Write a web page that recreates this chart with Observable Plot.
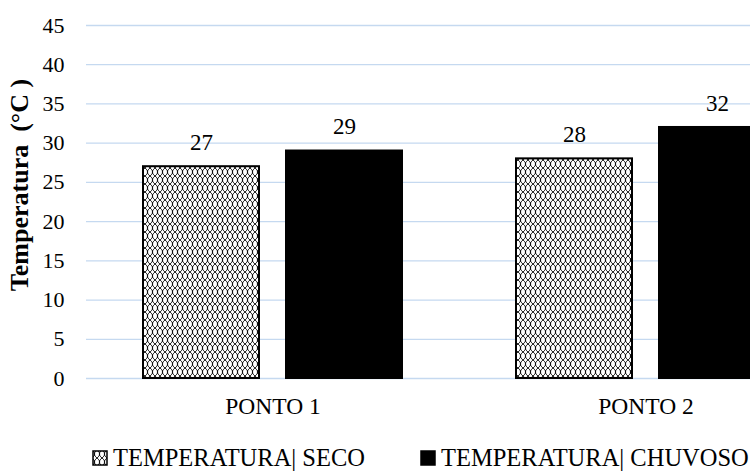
<!DOCTYPE html>
<html>
<head>
<meta charset="utf-8">
<script src="https://cdn.jsdelivr.net/npm/d3@7"></script>
<script src="https://cdn.jsdelivr.net/npm/@observablehq/plot@0.6"></script>
<style>
  html, body { margin: 0; padding: 0; background: #fff; overflow: hidden; width: 750px; height: 471px; }
  #wrap { position: relative; width: 750px; height: 471px; overflow: hidden; font-family: "Liberation Serif", "Times New Roman", serif; }
  #chart svg { max-width: none !important; display: block; }
  .leg { position: absolute; top: 444px; display: flex; align-items: center; font-size: 24.5px; color: #000; white-space: pre; line-height: 28px; }
  .sw { width: 16px; height: 16px; margin-right: 5px; display: block; }
</style>
</head>
<body>
<div id="wrap">
  <div id="chart"></div>
  <div class="leg" style="left:92px"><span id="sw1"></span><span>TEMPERATURA| SECO</span></div>
  <div class="leg" style="left:420px"><svg class="sw" width="16" height="16"><rect x="1" y="1" width="14" height="14" fill="#000" stroke="#000" stroke-width="1.5"/></svg><span>TEMPERATURA| CHUVOSO</span></div>
</div>
<script>
const pontos = ["PONTO 1", "PONTO 2"];
const series = ["TEMPERATURA| SECO", "TEMPERATURA| CHUVOSO"];
const seco = [27, 28];
const chuvoso = [29, 32];
const yTicks = [0, 5, 10, 15, 20, 25, 30, 35, 40, 45];
const yLabel = "Temperatura  (°C )";
const FONT = "Liberation Serif";

const table = [];
pontos.forEach((p, i) => {
  table.push({ponto: p, serie: series[0], valor: seco[i]});
  table.push({ponto: p, serie: series[1], valor: chuvoso[i]});
});

const patternDef = (id) => `<defs><pattern id="${id}" patternUnits="userSpaceOnUse" width="10" height="8">
  <rect width="10" height="8" fill="#fff"/>
  <path d="M0,0 Q3,2 2.5,4 T5,8 M5,0 Q8,2 7.5,4 T10,8 M10,0 Q7,2 7.5,4 T5,8 M5,0 Q2,2 2.5,4 T0,8" fill="none" stroke="#000" stroke-width="0.85"/>
</pattern></defs>`;

const fillFor = s => s === series[0] ? "url(#scales)" : "#000";

const chart = Plot.plot({
  width: 832,
  height: 430,
  marginLeft: 86,
  marginRight: 0,
  marginTop: 25,
  marginBottom: 52,
  style: {fontFamily: FONT, color: "#000", background: "#fff", maxWidth: "none"},
  fx: {domain: pontos, padding: 0},
  x: {domain: series, paddingInner: 0.1888, paddingOuter: 0.398, axis: null},
  y: {domain: [0, 45]},
  marks: [
    Plot.ruleY(yTicks, {y: d => d, stroke: "#c5d9f0", strokeWidth: 1.3}),
    Plot.axisY({ticks: yTicks, tickSize: 0, tickPadding: 22, fontSize: 22, label: null, fontFamily: FONT, fill: "#000"}),
    Plot.axisFx({anchor: "bottom", tickSize: 0, tickPadding: 19, fontSize: 23.5, label: null, fontFamily: FONT, fill: "#000"}),
    Plot.barY(table, {fx: "ponto", x: "serie", y: "valor",
      fill: d => fillFor(d.serie),
      stroke: "#000", strokeWidth: 2}),
    Plot.text(table, {fx: "ponto", x: "serie", y: "valor", text: d => String(d.valor),
      dy: -24, lineAnchor: "middle", fontSize: 23, fill: "#000", fontFamily: FONT}),
    Plot.text([yLabel], {frameAnchor: "left", text: d => d, rotate: -90, textAnchor: "middle", dx: -67, dy: -17,
      fontSize: 26, fontWeight: "bold", fill: "#000", fontFamily: FONT, facet: "super"})
  ]
});
document.getElementById("chart").appendChild(chart);
chart.insertAdjacentHTML("afterbegin", patternDef("scales"));
document.getElementById("sw1").outerHTML = `<svg class="sw" width="16" height="16">${patternDef("scales2")}<rect x="1" y="1" width="14" height="14" fill="url(#scales2)" stroke="#000" stroke-width="1.5"/></svg>`;
</script>
</body>
</html>
